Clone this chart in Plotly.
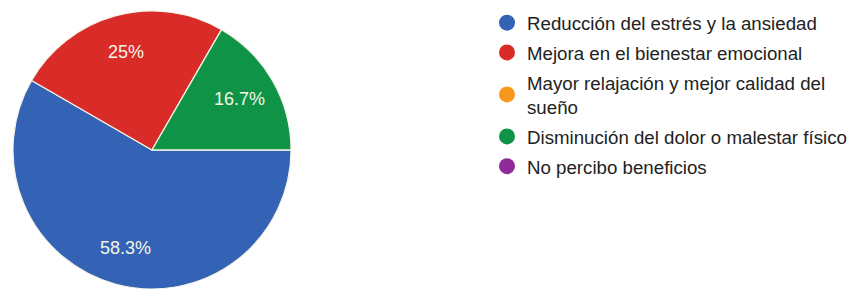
import math
import plotly.graph_objects as go

labels = [
    "Reducción del estrés y la ansiedad",
    "Mejora en el bienestar emocional",
    "Mayor relajación y mejor calidad del<br>sueño",
    "Disminución del dolor o malestar físico",
    "No percibo beneficios",
]
counts = [7, 3, 0, 2, 0]
colors = ["#3462b5", "#d92b27", "#f7971e", "#0f9447", "#8e2a99"]

W, H = 847, 289
M_T, M_B = 11, 0
PIE_W = 304  # px width of pie domain
FONT = "Liberation Sans, Arial, sans-serif"

fig = go.Figure()
fig.add_trace(go.Pie(
    labels=labels,
    values=counts,
    sort=False,
    direction="clockwise",
    rotation=90,
    marker=dict(colors=colors, line=dict(color="#f3f3e6", width=1.2)),
    textinfo="none",
    showlegend=False,
    hoverinfo="label+percent",
    domain=dict(x=[0, PIE_W / W], y=[0, 1]),
))

# percentage labels placed along each slice's mid-angle (derived from data)
total = sum(counts)
plot_h = H - M_T - M_B
R = min(PIE_W, plot_h) / 2
cx, cy = PIE_W / 2, M_T + plot_h / 2
start = 90.0  # degrees clockwise from 12 o'clock
for v in counts:
    span = 360.0 * v / total
    if v > 0:
        mid = math.radians(start + span / 2)
        rr = 0.73 * R
        px = cx + rr * math.sin(mid)
        py = cy - rr * math.cos(mid)
        pct = 100.0 * v / total
        txt = f"{pct:.1f}".rstrip("0").rstrip(".") + "%"
        fig.add_annotation(
            x=px / W, y=1 - (py - M_T) / plot_h, xref="paper", yref="paper",
            text=txt, showarrow=False,
            font=dict(family=FONT, size=18, color="#f5f5ea"),
            xanchor="center", yanchor="middle",
        )
    start += span

for i, (lab, col) in enumerate(zip(labels, colors)):
    fig.add_trace(go.Scatter(
        x=[None], y=[None], mode="markers", name=lab,
        marker=dict(color=col, size=16, symbol="circle"),
        legendgroup=f"g{i}", showlegend=True,
    ))

fig.update_layout(
    width=W, height=H,
    margin=dict(l=0, r=0, t=M_T, b=M_B, autoexpand=False),
    paper_bgcolor="white", plot_bgcolor="white",
    xaxis=dict(visible=False), yaxis=dict(visible=False),
    legend=dict(
        xref="container", yref="container",
        x=487 / W, xanchor="left", y=1 - 4 / H, yanchor="top",
        font=dict(family=FONT, size=18.7, color="#222222"),
        traceorder="grouped", tracegroupgap=2.5,
        itemclick=False, itemdoubleclick=False,
        bgcolor="rgba(0,0,0,0)",
        maxheight=280,
    ),
)

fig.write_html(
    "out.html",
    config={"displayModeBar": False},
    post_script="document.body.style.margin='0px';document.body.style.overflow='hidden';",
)
